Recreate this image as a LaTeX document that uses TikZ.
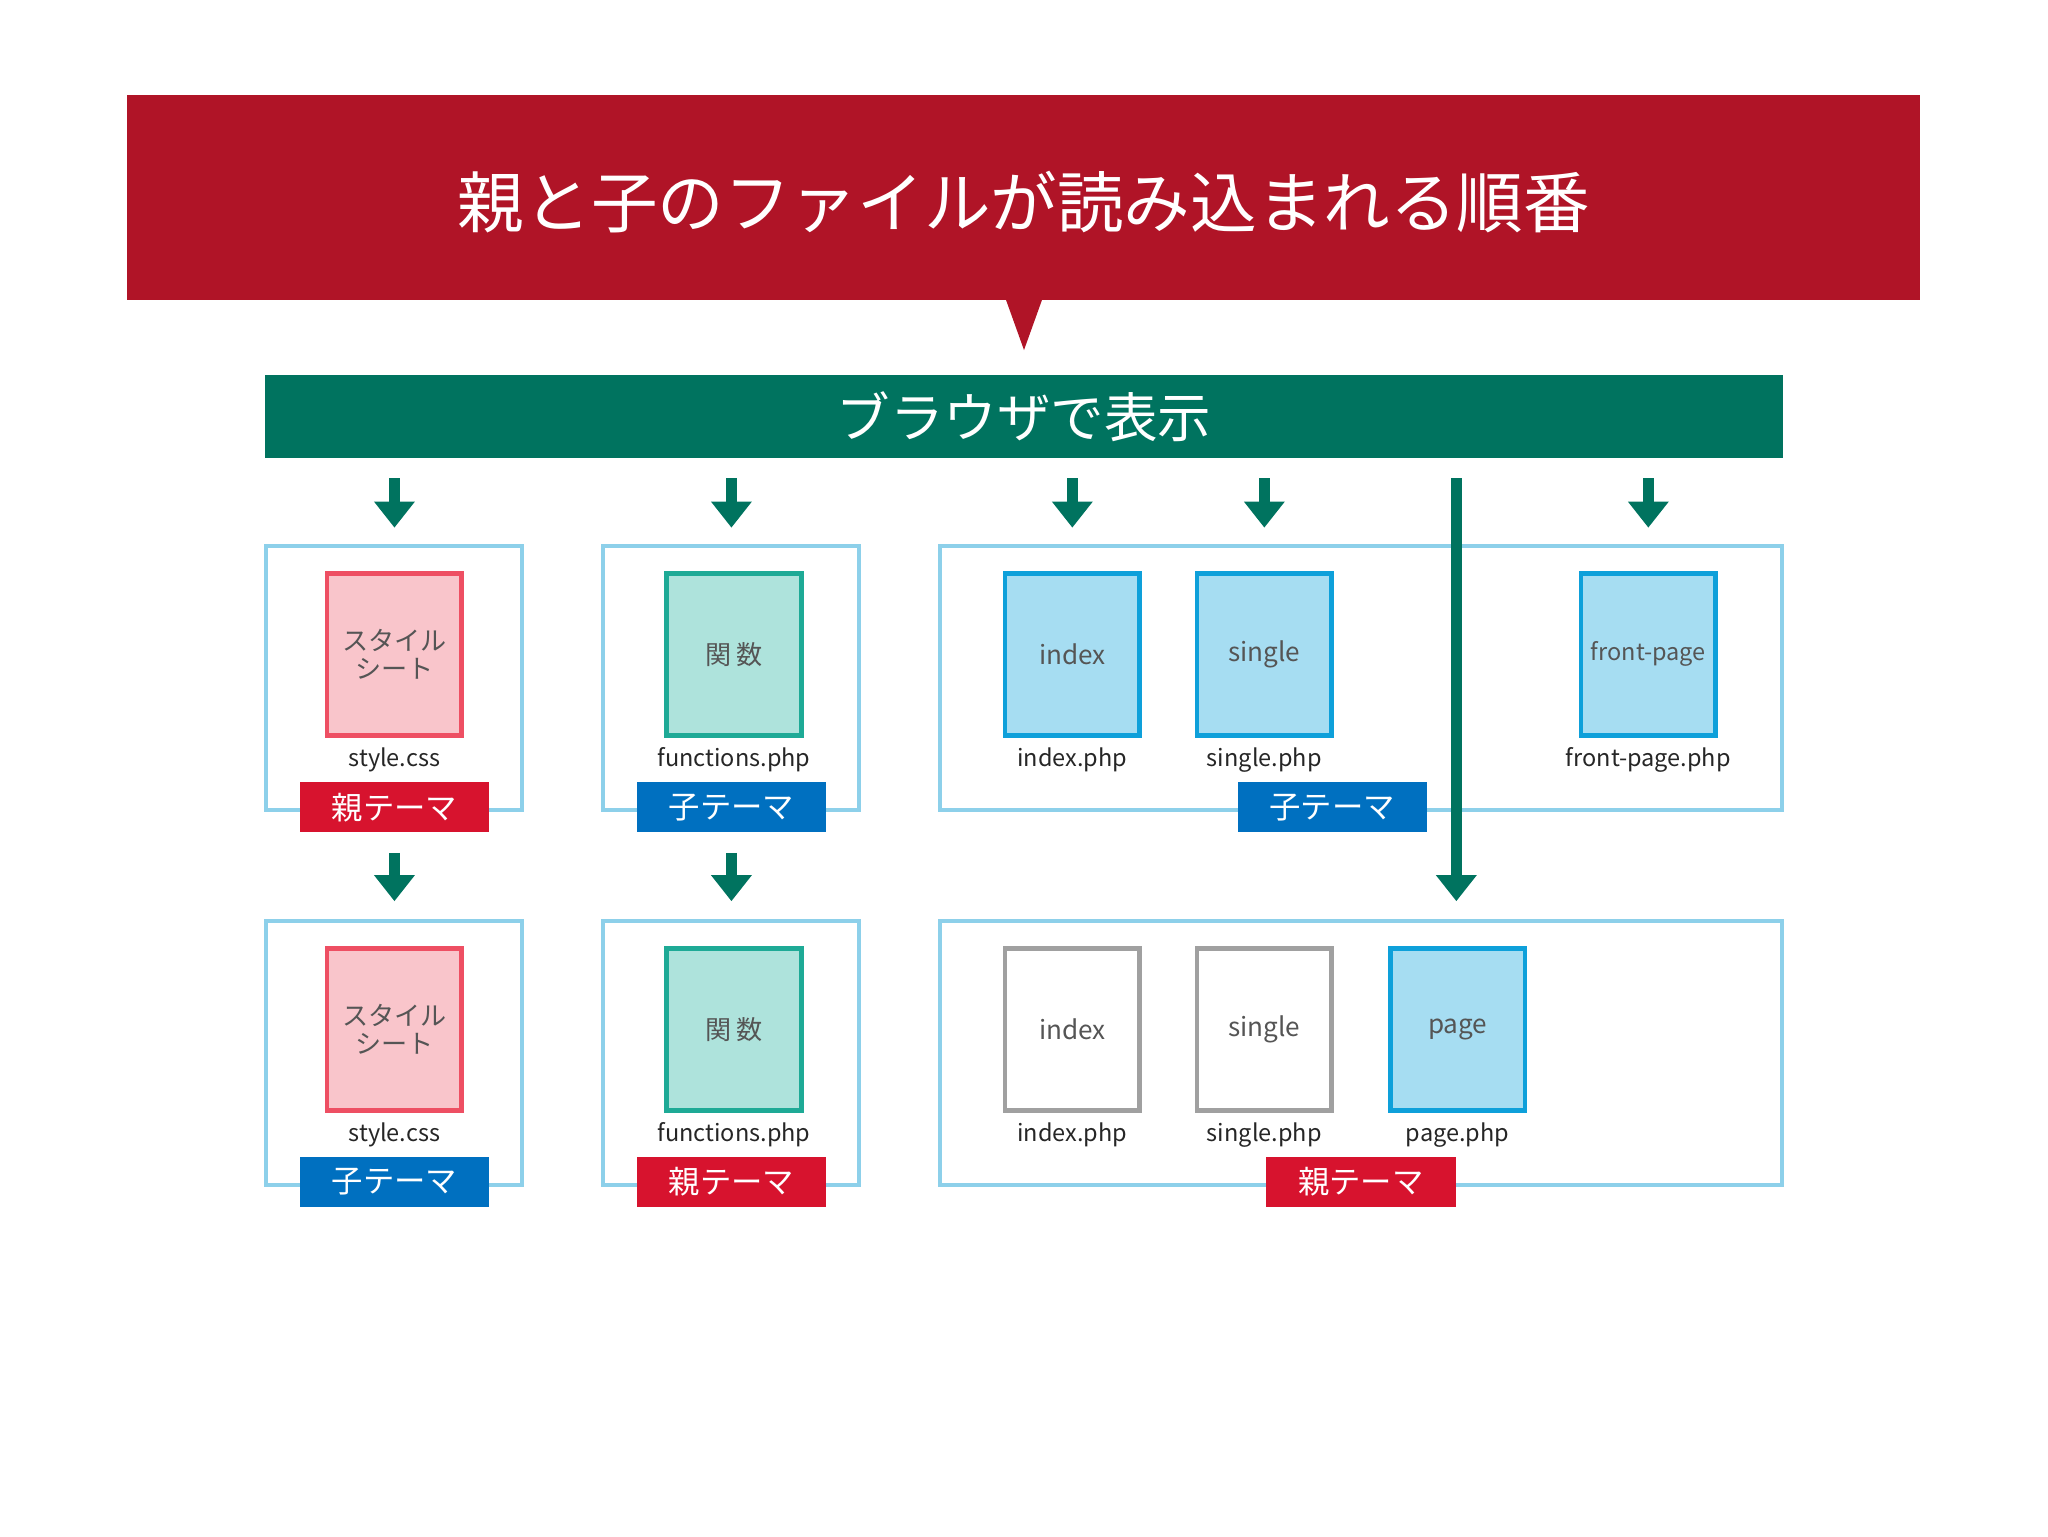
\documentclass[tikz,border=0pt]{standalone}
\usepackage{fontspec}
\setmainfont{Noto Sans CJK JP}
\usetikzlibrary{arrows.meta}
\definecolor{banner}{HTML}{B01427}
\definecolor{gbar}{HTML}{00735F}
\definecolor{frame}{HTML}{8DD0EA}
\definecolor{pinkf}{HTML}{F9C5CB}
\definecolor{pinkb}{HTML}{EE4F63}
\definecolor{tealf}{HTML}{AEE3DC}
\definecolor{tealb}{HTML}{1EAA96}
\definecolor{bluef}{HTML}{A6DDF2}
\definecolor{blueb}{HTML}{0EA0DA}
\definecolor{grayb}{HTML}{A0A0A0}
\definecolor{tagred}{HTML}{D7132E}
\definecolor{tagblue}{HTML}{0070C0}
\definecolor{txt}{HTML}{555555}
\tikzset{
 frm/.style={draw=frame,line width=3pt,fill=none},
 file/.style={line width=3.5pt,minimum width=103pt,minimum height=124pt,inner sep=0pt,align=center,text=txt,font=\fontsize{20}{22}\selectfont},
 css/.style={file,draw=pinkb,fill=pinkf},
 fn/.style={file,draw=tealb,fill=tealf},
 tpl/.style={file,draw=blueb,fill=bluef},
 gtpl/.style={file,draw=grayb,fill=white},
 lab/.style={font=\fontsize{18}{20}\selectfont,text=black!85},
 tag/.style={minimum width=145pt,minimum height=38pt,inner sep=0pt,text=white,font=\fontsize{24}{26}\selectfont},
 ptag/.style={tag,fill=tagred},
 ctag/.style={tag,fill=tagblue},
 arr/.style={draw=gbar,line width=8pt,-{Triangle[width=30pt,length=20pt]}},
}
\begin{document}
\begin{tikzpicture}[x=1pt,y=-1pt]
\useasboundingbox (0,0) rectangle (1568,1176);
% banner
\fill[banner] (97,73) rectangle (1470,230);
\fill[banner] (770,229) -- (798,229) -- (784,268) -- cycle;
\node[text=white,font=\fontsize{51}{55}\selectfont] (title) at (784,155) {親と子のファイルが読み込まれる順番};
% green bar
\node[fill=gbar,minimum width=1162pt,minimum height=64pt,inner sep=0pt,text=white,font=\fontsize{41}{44}\selectfont] (bar) at (784,319) {ブラウザで表示};
% frames
\draw[frm] (204,418) rectangle (400,620);
\draw[frm] (462,418) rectangle (658,620);
\draw[frm] (720,418) rectangle (1364,620);
\draw[frm] (204,705) rectangle (400,907);
\draw[frm] (462,705) rectangle (658,907);
\draw[frm] (720,705) rectangle (1364,907);
% row1 files
\node[css] (c1) at (302,501) {スタイル\\シート};
\node[lab] (c1l) at (302,582) {style.css};
\node[ptag] (t1) at (302,618) {親テーマ};
\node[fn] (f1) at (562,501) {関 数};
\node[lab] (f1l) at (562,582) {functions.php};
\node[ctag] (t2) at (560,618) {子テーマ};
\node[tpl] (i1) at (821,501) {index};
\node[lab] (i1l) at (821,582) {index.php};
\node[tpl] (s1) at (968,501) {single};
\node[lab] (s1l) at (968,582) {single.php};
\node[tpl,font=\fontsize{18}{20}\selectfont] (fp) at (1262,501) {front-page};
\node[lab] (fpl) at (1262,582) {front-page.php};
\node[ctag] (t3) at (1020,618) {子テーマ};
% row2 files
\node[css] (c2) at (302,788) {スタイル\\シート};
\node[lab] (c2l) at (302,869) {style.css};
\node[ctag] (t4) at (302,905) {子テーマ};
\node[fn] (f2) at (562,788) {関 数};
\node[lab] (f2l) at (562,869) {functions.php};
\node[ptag] (t5) at (560,905) {親テーマ};
\node[gtpl] (i2) at (821,788) {index};
\node[lab] (i2l) at (821,869) {index.php};
\node[gtpl] (s2) at (968,788) {single};
\node[lab] (s2l) at (968,869) {single.php};
\node[tpl] (p2) at (1116,788) {page};
\node[lab] (p2l) at (1116,869) {page.php};
\node[ptag] (t6) at (1042,905) {親テーマ};
% arrows
\foreach \x/\n in {302/a,560/b,821/c,968/d,1262/e}{
 \coordinate (s\n) at (\x,366); \coordinate (e\n) at (\x,404);
 \draw[arr] (s\n) -- (e\n);}
\foreach \x/\n in {302/f,560/g}{
 \coordinate (s\n) at (\x,653); \coordinate (e\n) at (\x,690);
 \draw[arr] (s\n) -- (e\n);}
\coordinate (sl) at (1115,366); \coordinate (el) at (1115,690);
\draw[arr] (sl) -- (el);
\end{tikzpicture}
\end{document}
